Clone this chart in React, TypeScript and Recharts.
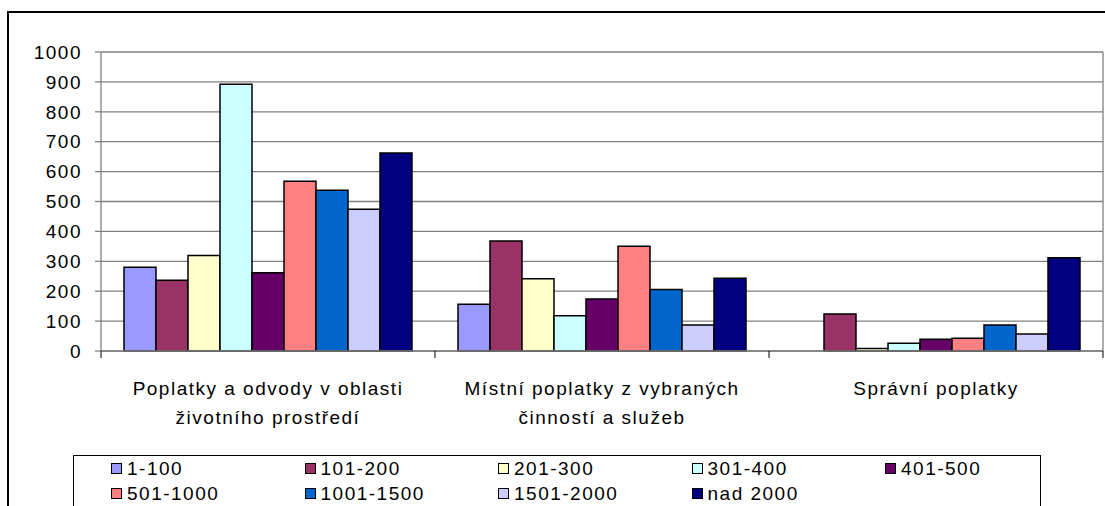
import { BarChart, Bar, XAxis, YAxis, CartesianGrid, Legend } from 'recharts'

const CATEGORIES = [
  ['Poplatky a odvody v oblasti', 'životního prostředí'],
  ['Místní poplatky z vybraných', 'činností a služeb'],
  ['Správní poplatky'],
]

const SERIES_NAMES = ['1-100', '101-200', '201-300', '301-400', '401-500', '501-1000', '1001-1500', '1501-2000', 'nad 2000']
const SERIES_COLORS = ['#9999FF', '#993366', '#FFFFCC', '#CCFFFF', '#660066', '#FF8080', '#0066CC', '#CCCCFF', '#000080']

// one array per size group, values for the three categories
const s1_100 = [280, 156, 0]
const s101_200 = [237, 368, 124]
const s201_300 = [319, 242, 8]
const s301_400 = [892, 118, 26]
const s401_500 = [262, 174, 39]
const s501_1000 = [568, 350, 43]
const s1001_1500 = [538, 206, 87]
const s1501_2000 = [474, 87, 57]
const sNad2000 = [662, 243, 312]

const Y_TICKS = [0, 100, 200, 300, 400, 500, 600, 700, 800, 900, 1000]

const SERIES_VALUES = [s1_100, s101_200, s201_300, s301_400, s401_500, s501_1000, s1001_1500, s1501_2000, sNad2000]

const data = CATEGORIES.map((lines, i) => {
  const row: Record<string, any> = { name: lines.join(' '), lines }
  SERIES_NAMES.forEach((s, j) => {
    row[s] = SERIES_VALUES[j][i]
  })
  return row
})

const FONT = '"Liberation Sans", Arial, sans-serif'
const W = 1105
const H = 506
const PLOT_LEFT = 101
const PLOT_RIGHT = 1103
const CAT_W = (PLOT_RIGHT - PLOT_LEFT) / CATEGORIES.length

const CategoryTick = ({ x, y, payload, index }: any) => {
  const lines: string[] = data[index]?.lines ?? [payload.value]
  const half = CAT_W / 2
  return (
    <g>
      <line x1={x - half} y1={y} x2={x - half} y2={y + 7} stroke="#000" strokeWidth={1} />
      {index === CATEGORIES.length - 1 && (
        <line x1={x + half} y1={y} x2={x + half} y2={y + 7} stroke="#000" strokeWidth={1} />
      )}
      <text x={x} y={y} textAnchor="middle" fontSize={19} fill="#000" style={{ letterSpacing: 1.5 }} fontFamily={FONT}>
        {lines.map((l, i) => (
          <tspan key={i} x={x} dy={i === 0 ? 44 : 29}>
            {l}
          </tspan>
        ))}
      </text>
    </g>
  )
}

const LegendBox = ({ payload }: any) => {
  // keep the series order, not the alphabetical one
  const items = [...(payload || [])].sort(
    (a: any, b: any) => SERIES_NAMES.indexOf(a.value) - SERIES_NAMES.indexOf(b.value)
  )
  return (
    <div
      style={{
        border: '1px solid #000',
        borderBottom: 'none',
        height: 80,
        display: 'grid',
        gridTemplateColumns: 'repeat(5, 193.5px)',
        gridAutoRows: '25px',
        alignContent: 'start',
        paddingLeft: 37,
        fontFamily: FONT,
        fontSize: 19,
        letterSpacing: 1.5,
        lineHeight: '25px',
        boxSizing: 'border-box',
      }}
    >
      {items.map((p: any) => (
        <div key={p.value} style={{ display: 'flex', alignItems: 'center', whiteSpace: 'nowrap' }}>
          <span
            style={{
              display: 'inline-block',
              width: 9,
              height: 9,
              border: '1px solid #000',
              background: p.color,
              marginRight: 5,
            }}
          />
          {p.value}
        </div>
      ))}
    </div>
  )
}

export default function App() {
  return (
    <div style={{ position: 'fixed', left: 0, top: 0, width: W, height: H, overflow: 'hidden', background: '#fff' }}>
      <div
        style={{
          position: 'absolute',
          left: 7,
          top: 11,
          width: 1200,
          height: 600,
          border: '2px solid #000',
        }}
      />
      <BarChart
        width={W}
        height={H}
        data={data}
        margin={{ top: 52, right: W - PLOT_RIGHT, left: 0, bottom: 0 }}
        barCategoryGap={23}
        barGap={0}
        style={{ position: 'absolute', left: 0, top: 0 }}
      >
        <CartesianGrid
          stroke="#808080"
          strokeWidth={1.3}
          verticalCoordinatesGenerator={({ offset }: any) => [offset.left + offset.width]}
        />
        <XAxis
          dataKey="name"
          height={155}
          tickSize={0}
          tickMargin={0}
          tickLine={false}
          interval={0}
          axisLine={{ stroke: '#808080', strokeWidth: 1.3 }}
          tick={<CategoryTick />}
        />
        <YAxis
          width={PLOT_LEFT}
          domain={[0, 1000]}
          ticks={Y_TICKS}
          interval={0}
          tickSize={6}
          tickMargin={13}
          tickLine={{ stroke: '#808080', strokeWidth: 1.3 }}
          axisLine={{ stroke: '#808080', strokeWidth: 1.3 }}
          tick={{ fill: '#000', fontSize: 19, fontFamily: FONT, letterSpacing: 1.5 }}
        />
        <Legend
          layout="horizontal"
          verticalAlign="middle"
          align="center"
          content={<LegendBox />}
          wrapperStyle={{ left: 73, top: 455, width: 968 }}
        />
        {SERIES_NAMES.map((s, i) => (
          <Bar key={s} dataKey={s} fill={SERIES_COLORS[i]} stroke="#000" strokeWidth={1.5} isAnimationActive={false} />
        ))}
      </BarChart>
    </div>
  )
}
